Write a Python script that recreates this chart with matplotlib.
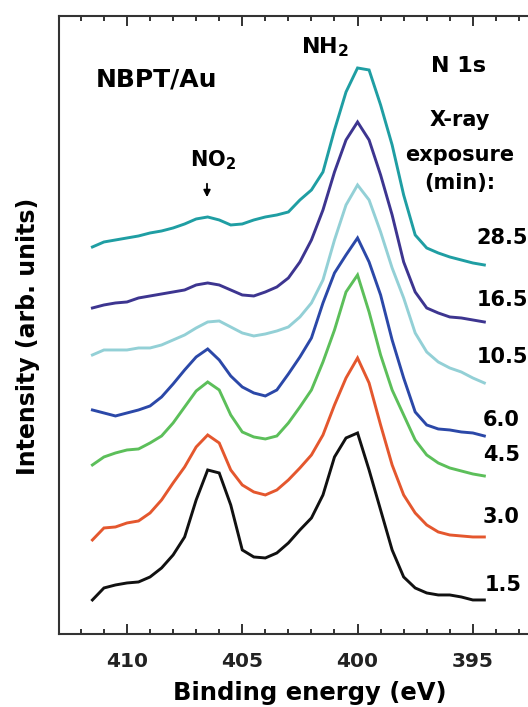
import matplotlib
matplotlib.use("Agg")
import matplotlib.pyplot as plt
from matplotlib.ticker import MultipleLocator

plt.rcParams['font.family'] = ['DejaVu Sans']
plt.rcParams['font.weight'] = 'bold'
plt.rcParams['mathtext.default'] = 'bf'

# Binding energy grid (eV)
energy = [411.5, 411.0, 410.5, 410.0, 409.5, 409.0, 408.5, 408.0, 407.5, 407.0,
          406.5, 406.0, 405.5, 405.0, 404.5, 404.0, 403.5, 403.0, 402.5, 402.0,
          401.5, 401.0, 400.5, 400.0, 399.5, 399.0, 398.5, 398.0, 397.5, 397.0,
          396.5, 396.0, 395.5, 395.0, 394.5]

# Offset intensities (arb. units) for each exposure time
i_1p5 = [34, 46, 49, 51, 52, 57, 66, 79, 97, 134, 164, 161, 129, 84, 77, 76, 81, 91, 104, 116,
         139, 177, 196, 201, 164, 124, 84, 57, 46, 41, 39, 39, 37, 34, 34]
i_3p0 = [94, 106, 107, 111, 113, 121, 134, 151, 167, 187, 199, 191, 164, 149, 142, 139, 144, 154, 166, 179,
         199, 229, 256, 276, 251, 209, 169, 139, 121, 109, 102, 99, 98, 97, 97]
i_4p5 = [169, 177, 181, 184, 185, 191, 198, 211, 227, 243, 252, 244, 219, 202, 197, 195, 198, 211, 227, 244,
         272, 304, 342, 359, 322, 279, 244, 219, 194, 179, 171, 166, 163, 160, 158]
i_6p0 = [224, 221, 218, 221, 224, 228, 237, 250, 264, 277, 285, 274, 258, 247, 241, 238, 244, 260, 277, 296,
         331, 361, 379, 396, 372, 339, 294, 256, 222, 209, 205, 204, 202, 201, 198]
i_10p5 = [279, 284, 284, 284, 286, 286, 289, 294, 299, 306, 312, 313, 307, 301, 298, 300, 303, 307, 317, 331,
          354, 394, 429, 449, 434, 402, 366, 336, 301, 282, 272, 266, 262, 256, 251]
i_16p5 = [326, 329, 331, 332, 336, 338, 340, 342, 344, 349, 351, 349, 344, 339, 338, 342, 347, 356, 372, 394,
          424, 462, 494, 512, 494, 459, 419, 372, 342, 326, 321, 317, 316, 314, 312]
i_28p5 = [387, 392, 394, 396, 398, 401, 403, 406, 410, 415, 417, 414, 409, 410, 414, 417, 419, 422, 434, 444,
          462, 504, 542, 566, 564, 529, 489, 439, 399, 386, 381, 377, 374, 371, 369]

series = [i_1p5, i_3p0, i_4p5, i_6p0, i_10p5, i_16p5, i_28p5]
exposure_labels = ["1.5", "3.0", "4.5", "6.0", "10.5", "16.5", "28.5"]
colors = ["#111111", "#e4572e", "#5cbf5a", "#2b48a8", "#93d0d6", "#3d3590", "#1f9ea3"]

# label anchor positions (energy, intensity)
label_pos = [(394.48, 49), (394.57, 117), (394.57, 179), (394.57, 214),
             (394.83, 277), (394.83, 334), (394.83, 396)]

fig = plt.figure(figsize=(5.28, 7.07), dpi=100)
ax = fig.add_axes([0.1117, 0.1033, 0.9148, 0.8741])

for vals, c in zip(series, colors):
    ax.plot(energy, vals, color=c, lw=2.1, solid_joinstyle='miter')

ax.set_xlim(412.95, 392.0)
ax.set_ylim(0, 618)

ax.xaxis.set_major_locator(MultipleLocator(5))
ax.xaxis.set_minor_locator(MultipleLocator(1))
ax.tick_params(axis='x', which='both', direction='in', top=True, bottom=True,
               labelsize=14.5, pad=13, colors='#222222', width=1.3)
ax.tick_params(axis='x', which='major', length=7.5)
ax.tick_params(axis='x', which='minor', length=3.8)
ax.tick_params(axis='y', left=False, right=False, labelleft=False)
for sp in ax.spines.values():
    sp.set_linewidth(1.5)
    sp.set_color('#333333')

for lab, (ex, ey) in zip(exposure_labels, label_pos):
    ax.text(ex, ey, lab, fontsize=15, fontweight='bold', ha='left', va='center')

ax.text(408.7, 554, "NBPT/Au", fontsize=18, fontweight='bold', ha='center', va='center')
ax.text(401.42, 587, r"NH$_{2}$", fontsize=16, fontweight='bold', ha='center', va='center')
ax.text(395.61, 568, "N 1s", fontsize=16, fontweight='bold', ha='center', va='center')
ax.text(395.55, 514, "X-ray", fontsize=15, fontweight='bold', ha='center', va='center')
ax.text(395.55, 479, "exposure", fontsize=15, fontweight='bold', ha='center', va='center')
ax.text(395.55, 451, "(min):", fontsize=15, fontweight='bold', ha='center', va='center')
ax.text(406.27, 474, r"NO$_{2}$", fontsize=15, fontweight='bold', ha='center', va='center')
ax.annotate("", xy=(406.53, 434), xytext=(406.53, 453),
            arrowprops=dict(arrowstyle='-|>', color='black', lw=1.3, mutation_scale=10))

fig.text(310 / 528, 1 - 693 / 707, "Binding energy (eV)", fontsize=17.5,
         fontweight='bold', ha='center', va='center')
fig.text(28 / 528, 1 - 336 / 707, "Intensity (arb. units)", fontsize=17,
         fontweight='bold', ha='center', va='center', rotation=90)

fig.savefig("out.png", dpi=100)
